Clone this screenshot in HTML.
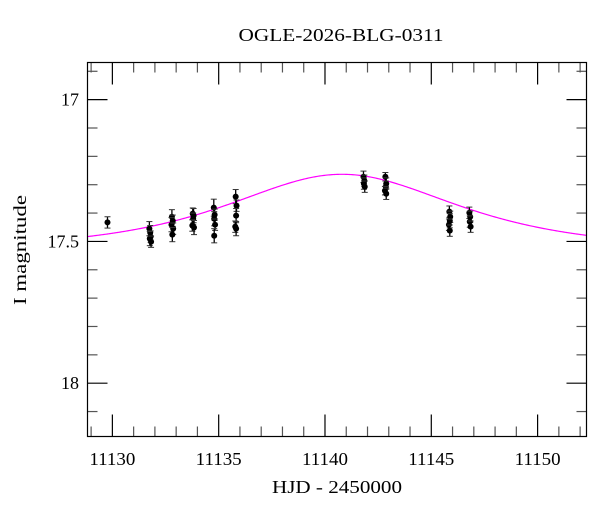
<!DOCTYPE html>
<html><head><meta charset="utf-8"><style>
body{margin:0;background:#fff;}
text{font-family:"Liberation Serif",serif;fill:#000;}
</style></head><body>
<svg id="chart" width="600" height="512" viewBox="0 0 600 512">
<text x="341" y="41" font-size="18" text-anchor="middle" textLength="205" lengthAdjust="spacingAndGlyphs">OGLE-2026-BLG-0311</text>
<text x="337" y="493" font-size="18" text-anchor="middle" textLength="130" lengthAdjust="spacingAndGlyphs">HJD - 2450000</text>
<text x="0" y="0" font-size="18" text-anchor="middle" textLength="110" lengthAdjust="spacingAndGlyphs" transform="translate(26,250) rotate(-90)">I magnitude</text>
<g id="ticks"></g>
<g id="curve"></g>
<g id="pts"></g>
<rect x="87.5" y="62.5" width="499" height="374" fill="none" stroke="#000" stroke-width="1.2"/>
</svg>
<script>
const days=[11129.77,11131.74,11131.78,11131.80,11131.76,11131.82,11132.80,11132.84,11132.78,11132.86,11132.82,11133.78,11133.82,11133.80,11133.76,11133.84,11134.77,11134.81,11134.79,11134.83,11134.79,11135.80,11135.84,11135.82,11135.78,11135.82,11141.81,11141.85,11141.83,11141.87,11142.84,11142.88,11142.86,11142.82,11142.88,11145.85,11145.89,11145.87,11145.83,11145.87,11146.79,11146.83,11146.81,11146.85];
const mags=[17.433,17.455,17.469,17.483,17.490,17.501,17.413,17.427,17.441,17.455,17.476,17.402,17.409,17.420,17.444,17.451,17.381,17.406,17.420,17.441,17.480,17.342,17.374,17.409,17.448,17.455,17.272,17.286,17.296,17.307,17.272,17.296,17.307,17.321,17.332,17.395,17.413,17.427,17.441,17.462,17.399,17.413,17.430,17.448];
const errs=[0.02,0.025,0.025,0.02,0.025,0.02,0.025,0.02,0.025,0.02,0.025,0.02,0.025,0.02,0.02,0.025,0.03,0.02,0.025,0.02,0.025,0.025,0.02,0.025,0.02,0.025,0.02,0.02,0.02,0.02,0.015,0.02,0.02,0.015,0.02,0.02,0.02,0.025,0.02,0.02,0.02,0.02,0.02,0.02];
const xTickLabels=[11130,11135,11140,11145,11150];
const yTickLabels=[17,17.5,18];
const model={t0:11140.8,tE:6.2,u0:1.1,base:17.53};
const X0=11128.83,X1=11152.3,PX0=87.5,PX1=586.5;
const Y0=16.869,Y1=18.188,PY0=62.5,PY1=436.5;
const sx=d=>PX0+(d-X0)/(X1-X0)*(PX1-PX0);
const sy=m=>PY0+(m-Y0)/(Y1-Y0)*(PY1-PY0);
const NS='http://www.w3.org/2000/svg';
function mk(tag,attrs,parent){const e=document.createElementNS(NS,tag);for(const k in attrs)e.setAttribute(k,attrs[k]);parent.appendChild(e);return e;}
const tg=document.getElementById('ticks');
for(let d=Math.ceil(X0);d<=X1;d++){
  const major=d%5===0,len=major?22:10,x=sx(d);
  let t=mk('line',{x1:x,x2:x,y1:PY1,y2:PY1-len,stroke:major?'#000':'#555','stroke-width':1.2},tg);
  
  
  t=mk('line',{x1:x,x2:x,y1:PY0,y2:PY0+len,stroke:major?'#000':'#555','stroke-width':1.2},tg);
  
  
}
xTickLabels.forEach(v=>{const t=mk('text',{x:sx(v),y:465,'font-size':18,'text-anchor':'middle',textLength:46,lengthAdjust:'spacingAndGlyphs'},tg);t.textContent=v;
  
  });
for(let i=Math.ceil(Y0*10);i<=Y1*10;i++){
  const m=i/10,major=i%5===0,len=major?20:10,y=sy(m);
  let t=mk('line',{x1:PX0,x2:PX0+len,y1:y,y2:y,stroke:major?'#000':'#555','stroke-width':1.2},tg);
  
  
  t=mk('line',{x1:PX1,x2:PX1-len,y1:y,y2:y,stroke:major?'#000':'#555','stroke-width':1.2},tg);
  
  
}
yTickLabels.forEach(v=>{const t=mk('text',{x:79,y:sy(v)+6,'font-size':18,'text-anchor':'end'},tg);t.textContent=v;
  
  });
let dstr='';
for(let i=0;i<=400;i++){const t=X0+(X1-X0)*i/400;const u2=model.u0*model.u0+Math.pow((t-model.t0)/model.tE,2);const u=Math.sqrt(u2);
  const A=(u2+2)/(u*Math.sqrt(u2+4));const m=model.base-2.5*Math.log10(A);dstr+=(i?'L':'M')+sx(t).toFixed(2)+','+sy(m).toFixed(2);}
const cp=mk('path',{d:dstr,fill:'none',stroke:'#ff00ff','stroke-width':1.2},document.getElementById('curve'));


const pg=document.getElementById('pts');
days.forEach((d,i)=>{const x=sx(d),y=sy(mags[i]),e=errs[i]*(PY1-PY0)/(Y1-Y0);
  const g=mk('g',{},pg);
  
  
  mk('line',{x1:x,x2:x,y1:y-e,y2:y+e,stroke:'#000','stroke-width':1.3},g);
  mk('line',{x1:x-3,x2:x+3,y1:y-e,y2:y-e,stroke:'#333','stroke-width':1},g);
  mk('line',{x1:x-3,x2:x+3,y1:y+e,y2:y+e,stroke:'#333','stroke-width':1},g);
  mk('circle',{cx:x,cy:y,r:3,fill:'#000'},g);
});
</script>
</body></html>
